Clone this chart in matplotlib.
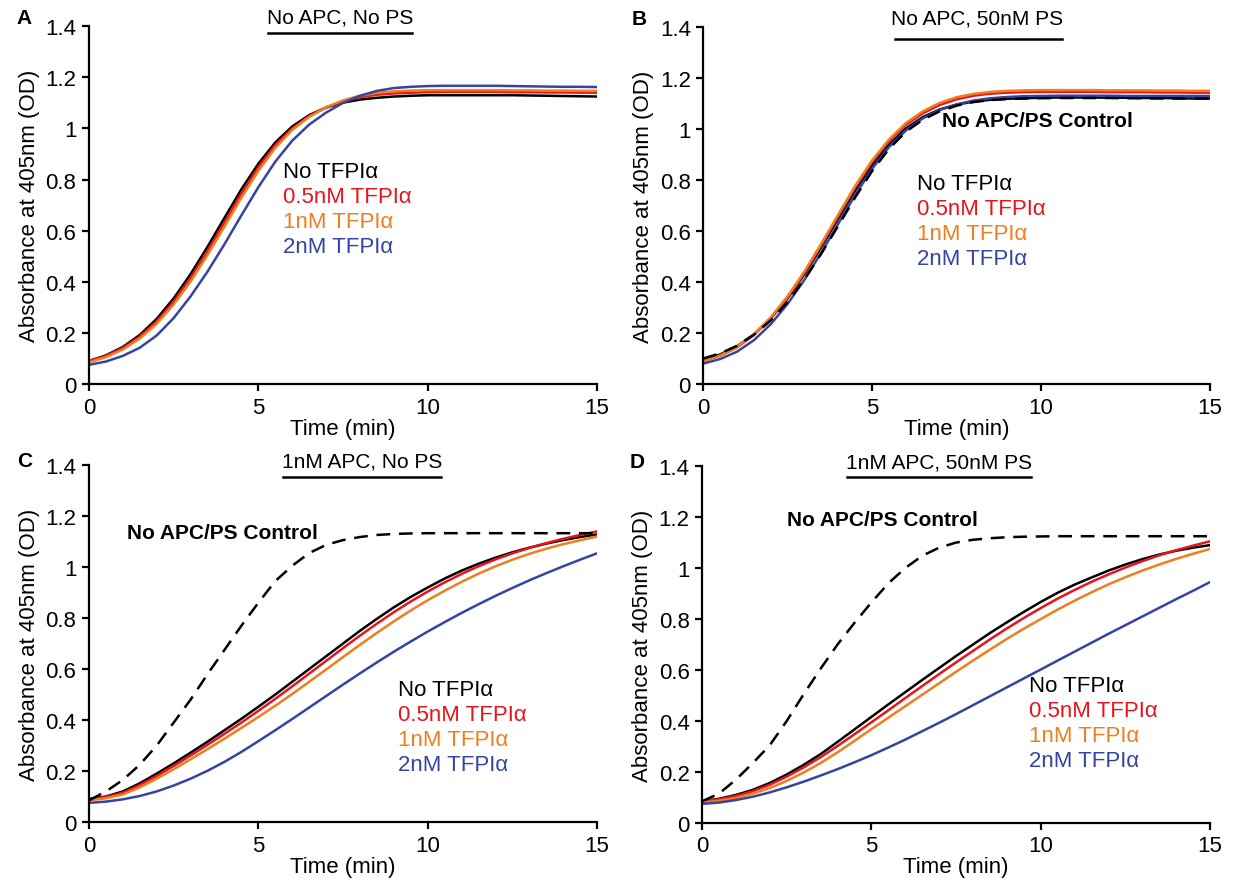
import matplotlib
matplotlib.use("Agg")
import matplotlib.pyplot as plt

plt.rcParams["font.family"] = ["Liberation Sans", "DejaVu Sans"]

# time points (min)
time_min = [0, 0.5, 1, 1.5, 2, 2.5, 3, 3.5, 4, 4.5, 5, 5.5, 6, 6.5, 7, 7.5,
            8, 8.5, 9, 9.5, 10, 10.5, 11, 11.5, 12, 12.5, 13, 13.5, 14, 14.5, 15]

# panel A - No APC, No PS
a_none = [0.09, 0.112, 0.145, 0.192, 0.255, 0.335, 0.43, 0.537, 0.65, 0.762, 0.862, 0.945, 1.008, 1.052, 1.082, 1.101,
          1.113, 1.12, 1.125, 1.128, 1.13, 1.13, 1.13, 1.13, 1.13, 1.13, 1.129, 1.128, 1.127, 1.126, 1.125]
a_05 = [0.09, 0.11, 0.141, 0.186, 0.246, 0.323, 0.415, 0.52, 0.632, 0.745, 0.848, 0.935, 1.0, 1.048, 1.082, 1.106,
        1.122, 1.132, 1.137, 1.14, 1.142, 1.143, 1.143, 1.143, 1.143, 1.142, 1.142, 1.141, 1.141, 1.14, 1.14]
a_1 = [0.085, 0.105, 0.135, 0.178, 0.236, 0.311, 0.401, 0.505, 0.616, 0.729, 0.834, 0.924, 0.994, 1.045, 1.083, 1.11,
       1.128, 1.139, 1.145, 1.148, 1.15, 1.15, 1.15, 1.15, 1.15, 1.149, 1.149, 1.148, 1.148, 1.147, 1.147]
a_2 = [0.075, 0.088, 0.11, 0.142, 0.19, 0.258, 0.343, 0.44, 0.547, 0.66, 0.77, 0.87, 0.952, 1.015, 1.062, 1.1,
       1.128, 1.147, 1.158, 1.163, 1.166, 1.167, 1.167, 1.167, 1.167, 1.166, 1.165, 1.164, 1.163, 1.163, 1.162]

# panel B - No APC, 50nM PS
b_ctrl = [0.1, 0.12, 0.15, 0.193, 0.25, 0.323, 0.412, 0.513, 0.622, 0.733, 0.836, 0.923, 0.99, 1.037, 1.07, 1.092,
          1.106, 1.114, 1.118, 1.12, 1.121, 1.122, 1.122, 1.122, 1.122, 1.121, 1.121, 1.12, 1.12, 1.12, 1.12]
b_none = [0.095, 0.116, 0.148, 0.195, 0.258, 0.337, 0.432, 0.538, 0.65, 0.76, 0.858, 0.94, 1.003, 1.047, 1.077, 1.096,
          1.108, 1.115, 1.119, 1.121, 1.123, 1.124, 1.124, 1.124, 1.123, 1.123, 1.122, 1.122, 1.121, 1.12, 1.12]
b_05 = [0.09, 0.111, 0.144, 0.193, 0.258, 0.34, 0.437, 0.546, 0.66, 0.772, 0.872, 0.954, 1.017, 1.062, 1.095, 1.117,
        1.131, 1.139, 1.143, 1.145, 1.146, 1.146, 1.146, 1.146, 1.145, 1.145, 1.145, 1.144, 1.144, 1.143, 1.143]
b_1 = [0.09, 0.112, 0.146, 0.196, 0.262, 0.345, 0.443, 0.552, 0.666, 0.778, 0.878, 0.96, 1.024, 1.07, 1.103, 1.125,
       1.138, 1.146, 1.15, 1.152, 1.153, 1.153, 1.153, 1.153, 1.152, 1.152, 1.152, 1.151, 1.151, 1.15, 1.15]
b_2 = [0.08, 0.098, 0.127, 0.172, 0.235, 0.315, 0.41, 0.517, 0.63, 0.742, 0.845, 0.93, 0.995, 1.042, 1.075, 1.097,
       1.112, 1.121, 1.126, 1.129, 1.13, 1.131, 1.131, 1.131, 1.131, 1.13, 1.13, 1.13, 1.13, 1.13, 1.13]

# panel C - 1nM APC, No PS
c_ctrl = [0.085, 0.12, 0.165, 0.225, 0.3, 0.39, 0.48, 0.58, 0.675, 0.77, 0.86, 0.945, 1.005, 1.055, 1.087, 1.106,
          1.118, 1.126, 1.13, 1.132, 1.133, 1.133, 1.133, 1.133, 1.133, 1.133, 1.133, 1.133, 1.133, 1.133, 1.133]
c_none = [0.09, 0.10, 0.12, 0.152, 0.19, 0.23, 0.272, 0.315, 0.36, 0.405, 0.452, 0.5, 0.55, 0.6, 0.65, 0.7,
          0.75, 0.797, 0.842, 0.883, 0.92, 0.955, 0.986, 1.013, 1.037, 1.058, 1.076, 1.092, 1.106, 1.118, 1.128]
c_05 = [0.09, 0.098, 0.115, 0.145, 0.181, 0.22, 0.261, 0.303, 0.346, 0.39, 0.436, 0.483, 0.532, 0.582, 0.632, 0.682,
        0.731, 0.778, 0.823, 0.865, 0.904, 0.94, 0.973, 1.003, 1.03, 1.054, 1.075, 1.094, 1.111, 1.126, 1.14]
c_1 = [0.085, 0.093, 0.108, 0.136, 0.17, 0.207, 0.246, 0.286, 0.327, 0.369, 0.412, 0.456, 0.502, 0.55, 0.598, 0.647,
       0.695, 0.742, 0.787, 0.83, 0.87, 0.907, 0.942, 0.974, 1.003, 1.029, 1.052, 1.072, 1.09, 1.105, 1.12]
c_2 = [0.075, 0.08, 0.089, 0.102, 0.12, 0.143, 0.17, 0.201, 0.236, 0.275, 0.317, 0.36, 0.404, 0.449, 0.494, 0.539,
       0.583, 0.626, 0.668, 0.708, 0.747, 0.784, 0.82, 0.854, 0.887, 0.918, 0.948, 0.976, 1.003, 1.029, 1.054]

# panel D - 1nM APC, 50nM PS
d_ctrl = [0.085, 0.115, 0.17, 0.235, 0.305, 0.40, 0.505, 0.605, 0.70, 0.785, 0.865, 0.94, 1.0, 1.048, 1.08, 1.1,
          1.111, 1.117, 1.121, 1.123, 1.124, 1.125, 1.125, 1.125, 1.125, 1.125, 1.125, 1.125, 1.125, 1.125, 1.125]
d_none = [0.085, 0.095, 0.11, 0.13, 0.157, 0.19, 0.228, 0.27, 0.318, 0.367, 0.416, 0.465, 0.513, 0.561, 0.608, 0.655,
          0.70, 0.745, 0.787, 0.828, 0.867, 0.903, 0.935, 0.963, 0.99, 1.014, 1.035, 1.053, 1.068, 1.08, 1.09]
d_05 = [0.085, 0.093, 0.106, 0.125, 0.15, 0.182, 0.218, 0.258, 0.302, 0.348, 0.395, 0.442, 0.49, 0.537, 0.584, 0.63,
        0.675, 0.72, 0.763, 0.804, 0.843, 0.88, 0.914, 0.946, 0.975, 1.002, 1.027, 1.05, 1.07, 1.088, 1.105]
d_1 = [0.08, 0.087, 0.098, 0.115, 0.137, 0.165, 0.198, 0.235, 0.277, 0.322, 0.368, 0.413, 0.458, 0.503, 0.548, 0.593,
       0.637, 0.68, 0.722, 0.762, 0.80, 0.837, 0.872, 0.905, 0.936, 0.964, 0.99, 1.014, 1.036, 1.056, 1.075]
d_2 = [0.075, 0.08, 0.09, 0.103, 0.12, 0.14, 0.162, 0.186, 0.211, 0.238, 0.266, 0.296, 0.327, 0.36, 0.393, 0.427,
       0.462, 0.497, 0.532, 0.567, 0.602, 0.637, 0.672, 0.707, 0.742, 0.776, 0.81, 0.844, 0.878, 0.911, 0.945]

labels = ["No TFPI\u03b1", "0.5nM TFPI\u03b1", "1nM TFPI\u03b1", "2nM TFPI\u03b1"]
colors = ["black", "#e8141c", "#f07d1e", "#3444a2"]

y_ticks = [0, 0.2, 0.4, 0.6, 0.8, 1, 1.2, 1.4]
y_ticklabels = ["0", "0.2", "0.4", "0.6", "0.8", "1", "1.2", "1.4"]
x_ticks = [0, 5, 10, 15]

# letter, title, axes rect, curves, control, title x, underline span, underline y, legend pos, control label pos
panels = [
    ("A", "No APC, No PS", [0.072, 0.562, 0.411, 0.407], [a_none, a_05, a_1, a_2], None,
     0.494, (0.352, 0.636), 0.98, (0.382, 0.595), None),
    ("B", "No APC, 50nM PS", [0.569, 0.562, 0.410, 0.406], [b_none, b_05, b_1, b_2], b_ctrl,
     0.54, (0.379, 0.708), 0.966, (0.422, 0.563), (0.471, 0.737)),
    ("C", "1nM APC, No PS", [0.072, 0.0637, 0.411, 0.406], [c_none, c_05, c_1, c_2], c_ctrl,
     0.537, (0.382, 0.693), 0.966, (0.608, 0.37), (0.075, 0.81)),
    ("D", "1nM APC, 50nM PS", [0.568, 0.0626, 0.411, 0.406], [d_none, d_05, d_1, d_2], d_ctrl,
     0.467, (0.285, 0.648), 0.969, (0.644, 0.384), (0.167, 0.849)),
]

fig = plt.figure(figsize=(12.36, 8.79), dpi=100)

for letter, title, rect, curves, ctrl, tx, span, uy, leg, ctrl_pos in panels:
    ax = fig.add_axes(rect)
    for series, col in zip(curves, colors):
        ax.plot(time_min, series, color=col, lw=1.8)
    if ctrl is not None:
        ax.plot(time_min, ctrl, color="black", lw=1.8, dashes=(5.5, 3.5))
        ax.text(ctrl_pos[0], ctrl_pos[1], "No APC/PS Control", transform=ax.transAxes,
                fontsize=15, fontweight="bold", va="center", ha="left")

    ax.set_xlim(0, 15)
    ax.set_ylim(0, 1.4)
    ax.set_xticks(x_ticks)
    ax.set_yticks(y_ticks)
    ax.set_yticklabels(y_ticklabels)
    ax.spines["top"].set_visible(False)
    ax.spines["right"].set_visible(False)
    ax.spines["left"].set_linewidth(1.6)
    ax.spines["bottom"].set_linewidth(1.6)
    ax.tick_params(direction="out", length=5, width=1.6, labelsize=16, pad=4)
    ax.set_xlabel("Time (min)", fontsize=16, labelpad=0)
    ax.set_ylabel("Absorbance at 405nm (OD)", fontsize=16, labelpad=4)

    # title with underline
    ty = 1.025 if letter in "AB" else 1.012
    ax.text(tx, ty, title, transform=ax.transAxes, fontsize=15, ha="center", va="center")
    ax.plot(span, [uy, uy], transform=ax.transAxes, color="black", lw=1.8, clip_on=False)
    ax.text(-0.142, ty, letter, transform=ax.transAxes,
            fontsize=15, fontweight="bold", ha="left", va="center")

    for i, (lab, col) in enumerate(zip(labels, colors)):
        ax.text(leg[0], leg[1] - i * 0.07, lab, color=col, transform=ax.transAxes,
                fontsize=16, ha="left", va="center")

fig.savefig("out.png", dpi=100)
